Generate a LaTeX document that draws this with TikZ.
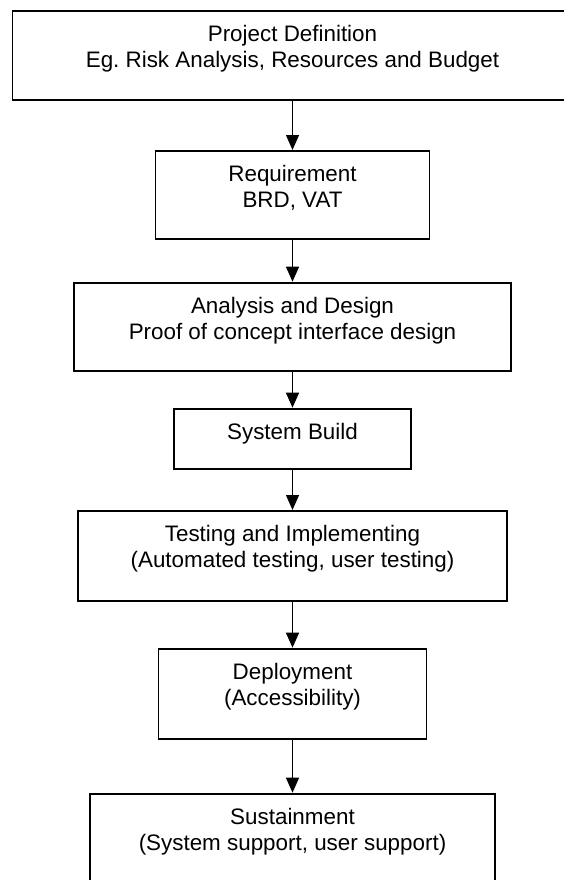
\documentclass[tikz,border=0pt]{standalone}
\usepackage{fontspec}
\setmainfont{Liberation Sans}
\usetikzlibrary{arrows.meta,positioning}

% text sits at the top of each box
\newcommand{\stagebox}[3]{\parbox[c][#2][t]{#1}{\centering\rule{0pt}{31pt}#3}}

\begin{document}
\begin{tikzpicture}[>={Triangle[length=15pt,width=13pt]},line width=1.2pt,
        stage/.style={draw,line width=1.8pt,inner sep=0pt,font={\fontsize{22.4}{26}\selectfont}}]
        \useasboundingbox (0,0) rectangle (564pt,-880pt);
        \node[stage,anchor=north] (define) at (292.5pt,-10pt) {\stagebox{560pt}{89pt}{Project Definition\\Eg.\ Risk Analysis, Resources and Budget}};
        \node[stage] (require) [below=49.2pt of define] {\stagebox{274pt}{88pt}{Requirement\\BRD, VAT}};
        \node[stage] (design) [below=41.9pt of require] {\stagebox{437pt}{88.3pt}{Analysis and Design\\Proof of concept interface design}};
        \node[stage] (build) [below=35.9pt of design] {\stagebox{237pt}{60.3pt}{System Build}};
        \node[stage] (test) [below=40.2pt of build] {\stagebox{429pt}{90pt}{Testing and Implementing\\(Automated testing, user testing)}};
        \node[stage] (deploy) [below=45.9pt of test] {\stagebox{268pt}{90.3pt}{Deployment\\(Accessibility)}};
        \node[stage] (sustain) [below=52.9pt of deploy] {\stagebox{405pt}{90pt}{Sustainment\\(System support, user support)}};
        \path[->]
        (define) edge (require)
        (require) edge (design)
        (design) edge (build)
        (build) edge (test)
        (test) edge (deploy)
        (deploy) edge (sustain)
        ;
        \end{tikzpicture}
\end{document}
